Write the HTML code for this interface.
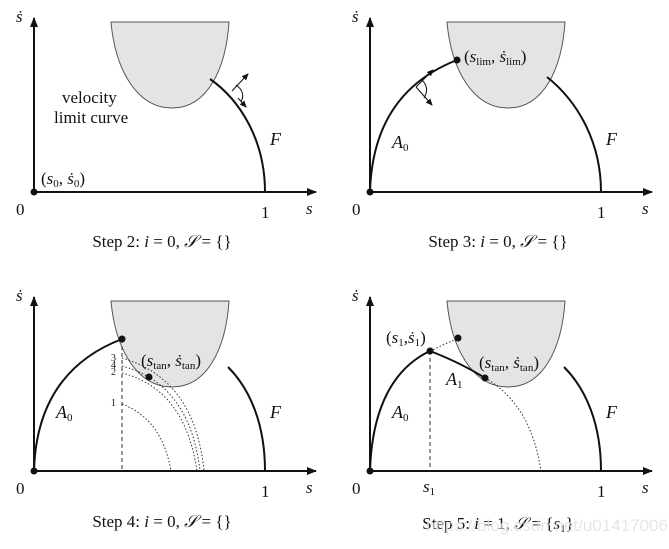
<!DOCTYPE html>
<html><head><meta charset="utf-8"><style>
body{margin:0;background:#fff}
svg text{font-family:"Liberation Serif",serif;fill:#111}
.i{font-style:italic}
</style></head><body>
<svg width="669" height="544" viewBox="0 0 669 544" xmlns="http://www.w3.org/2000/svg">
<defs>
<marker id="ah" markerWidth="10" markerHeight="8" refX="9" refY="4" orient="auto" markerUnits="userSpaceOnUse">
<path d="M0,0 L10,4 L0,8 Z" fill="#111"/></marker>
<marker id="sa" markerWidth="7" markerHeight="6" refX="6" refY="3" orient="auto" markerUnits="userSpaceOnUse">
<path d="M0,0 L7,3 L0,6 Z" fill="#111"/></marker>
<g id="axes">
<path d="M111,22 C115,68 136,108 172,108 C208,108 226,68 229,22 Z" fill="#e4e4e4" stroke="#555" stroke-width="1"/>
<line x1="34" y1="192" x2="34" y2="18" stroke="#111" stroke-width="2" marker-end="url(#ah)"/>
<line x1="34" y1="192" x2="316" y2="192" stroke="#111" stroke-width="2" marker-end="url(#ah)"/>
<text x="16" y="22" class="i" font-size="17">ṡ</text>
<text x="16" y="215" font-size="17">0</text>
<text x="261" y="218" font-size="17">1</text>
<text x="306" y="214" class="i" font-size="17">s</text>
<circle cx="34" cy="192" r="3.5" fill="#111"/>
</g>
</defs>

<!-- Panel 1 -->
<use href="#axes"/>
<path d="M210,79 C240,100 265,140 265,192" fill="none" stroke="#111" stroke-width="2"/>
<line x1="232" y1="91" x2="248" y2="74" stroke="#111" stroke-width="1" marker-end="url(#sa)"/>
<line x1="238" y1="98" x2="246" y2="107" stroke="#111" stroke-width="1" marker-end="url(#sa)"/>
<path d="M236,85 Q246,92 241,102" fill="none" stroke="#111" stroke-width="1"/>
<text x="62" y="103" font-size="17">velocity</text>
<text x="54" y="123" font-size="17">limit curve</text>
<text x="41" y="184" font-size="17">(<tspan class="i">s</tspan><tspan font-size="11" dy="3">0</tspan><tspan dy="-3">, </tspan><tspan class="i">ṡ</tspan><tspan font-size="11" dy="3">0</tspan><tspan dy="-3">)</tspan></text>
<text x="270" y="145" class="i" font-size="18">F</text>
<text x="162" y="247" font-size="17" text-anchor="middle">Step 2: <tspan class="i">i</tspan> = 0, <tspan class="i">𝒮</tspan> = {}</text>

<!-- Panel 2 -->
<g transform="translate(336,0)">
<use href="#axes"/>
<path d="M211,77 C240,100 265,140 265,192" fill="none" stroke="#111" stroke-width="2"/>
<path d="M34,192 C36,120 70,80 121,60" fill="none" stroke="#111" stroke-width="2"/>
<circle cx="121" cy="60" r="3.5" fill="#111"/>
<line x1="80" y1="87" x2="97" y2="70" stroke="#111" stroke-width="1" marker-end="url(#sa)"/>
<line x1="80" y1="87" x2="96" y2="105" stroke="#111" stroke-width="1" marker-end="url(#sa)"/>
<path d="M86,80 Q94,88 88,98" fill="none" stroke="#111" stroke-width="1"/>
<text x="128" y="62" font-size="17">(<tspan class="i">s</tspan><tspan font-size="11" dy="3">lim</tspan><tspan dy="-3">, </tspan><tspan class="i">ṡ</tspan><tspan font-size="11" dy="3">lim</tspan><tspan dy="-3">)</tspan></text>
<text x="56" y="148" class="i" font-size="18">A<tspan font-size="11" dy="3" font-style="normal">0</tspan></text>
<text x="270" y="145" class="i" font-size="18">F</text>
<text x="162" y="247" font-size="17" text-anchor="middle">Step 3: <tspan class="i">i</tspan> = 0, <tspan class="i">𝒮</tspan> = {}</text>
</g>

<!-- Panel 3 -->
<g transform="translate(0,279)">
<use href="#axes"/>
<path d="M228,88 C250,110 265,145 265,192" fill="none" stroke="#111" stroke-width="2"/>
<path d="M34,192 C36,120 70,80 122,60" fill="none" stroke="#111" stroke-width="2"/>
<line x1="122" y1="60" x2="122" y2="192" stroke="#333" stroke-width="1" stroke-dasharray="4,3"/>
<g fill="none" stroke="#333" stroke-width="1" stroke-dasharray="1.5,2">
<path d="M122,79 Q195,100 204,192"/>
<path d="M122,87 Q190,105 200,192"/>
<path d="M122,94 Q185,110 197,192"/>
<path d="M122,125 Q162,140 171,192"/>
</g>
<g font-size="10"><text x="111" y="82">3</text><text x="111" y="89">4</text><text x="111" y="96">2</text><text x="111" y="127">1</text></g>
<circle cx="122" cy="60" r="3.5" fill="#111"/>
<circle cx="149" cy="98" r="3.5" fill="#111"/>
<text x="141" y="87" font-size="17">(<tspan class="i">s</tspan><tspan font-size="11" dy="3">tan</tspan><tspan dy="-3">, </tspan><tspan class="i">ṡ</tspan><tspan font-size="11" dy="3">tan</tspan><tspan dy="-3">)</tspan></text>
<text x="56" y="139" class="i" font-size="18">A<tspan font-size="11" dy="3" font-style="normal">0</tspan></text>
<text x="270" y="139" class="i" font-size="18">F</text>
<text x="162" y="248" font-size="17" text-anchor="middle">Step 4: <tspan class="i">i</tspan> = 0, <tspan class="i">𝒮</tspan> = {}</text>
</g>

<!-- Panel 4 -->
<g transform="translate(336,279)">
<use href="#axes"/>
<path d="M228,88 C250,110 265,145 265,192" fill="none" stroke="#111" stroke-width="2"/>
<path d="M34,192 C36,125 60,88 94,72" fill="none" stroke="#111" stroke-width="2"/>
<path d="M94,72 Q125,84 149,99" fill="none" stroke="#111" stroke-width="2"/>
<line x1="94" y1="72" x2="94" y2="192" stroke="#333" stroke-width="1" stroke-dasharray="4,3"/>
<line x1="94" y1="72" x2="122" y2="59" stroke="#333" stroke-width="1" stroke-dasharray="1.5,2"/>
<path d="M149,99 Q195,125 205,192" fill="none" stroke="#333" stroke-width="1" stroke-dasharray="1.5,2"/>
<circle cx="94" cy="72" r="3.5" fill="#111"/>
<circle cx="122" cy="59" r="3.5" fill="#111"/>
<circle cx="149" cy="99" r="3.5" fill="#111"/>
<text x="50" y="64" font-size="17">(<tspan class="i">s</tspan><tspan font-size="11" dy="3">1</tspan><tspan dy="-3">,</tspan><tspan class="i">ṡ</tspan><tspan font-size="11" dy="3">1</tspan><tspan dy="-3">)</tspan></text>
<text x="143" y="89" font-size="17">(<tspan class="i">s</tspan><tspan font-size="11" dy="3">tan</tspan><tspan dy="-3">, </tspan><tspan class="i">ṡ</tspan><tspan font-size="11" dy="3">tan</tspan><tspan dy="-3">)</tspan></text>
<text x="110" y="106" class="i" font-size="18">A<tspan font-size="11" dy="3" font-style="normal">1</tspan></text>
<text x="56" y="139" class="i" font-size="18">A<tspan font-size="11" dy="3" font-style="normal">0</tspan></text>
<text x="270" y="139" class="i" font-size="18">F</text>
<text x="87" y="213" class="i" font-size="17">s<tspan font-size="11" dy="3" font-style="normal">1</tspan></text>
<text x="162" y="250" font-size="17" text-anchor="middle">Step 5: <tspan class="i">i</tspan> = 1, <tspan class="i">𝒮</tspan> = {<tspan class="i">s</tspan><tspan font-size="11" dy="3">1</tspan><tspan dy="-3">}</tspan></text>
<text x="90" y="252" font-size="17" style="fill:#e0e0e0;font-family:'Liberation Sans',sans-serif;fill-opacity:0.8">https://blog.csdn.net/u014170067</text>
</g>
</svg>
</body></html>
